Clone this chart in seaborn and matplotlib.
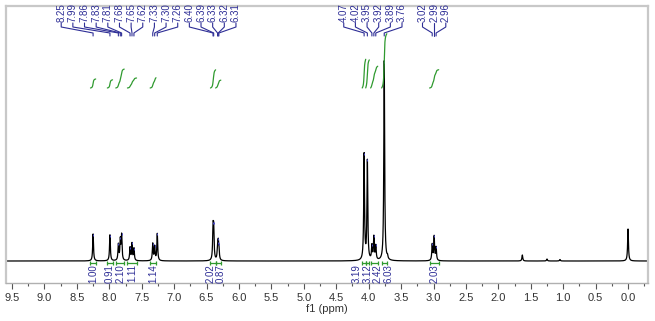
import numpy as np
import pandas as pd
import matplotlib.pyplot as plt
import seaborn as sns
from matplotlib.ticker import MultipleLocator, FormatStrFormatter

# picked peaks (ppm) and their heights above baseline
peak_ppm = [8.25, 7.99, 7.86, 7.83, 7.81, 7.68, 7.65, 7.62, 7.33, 7.30, 7.26,
            6.40, 6.39, 6.33, 6.32, 6.31,
            4.07, 4.02, 3.95, 3.92, 3.89, 3.76, 3.02, 2.99, 2.96]
peak_height = [27, 26, 16, 20, 25, 13, 17, 12, 17, 14, 27,
               29, 28, 12, 14, 11,
               106, 99, 14, 23, 14, 200, 16, 24, 13]
# unlabelled small signals
extra_ppm = [3.71, 1.63, 1.25, 1.05, 0.00]
extra_height = [3, 6, 2, 1.5, 32]

# integration regions
int_start = [8.29, 8.03, 7.90, 7.72, 7.37, 6.44, 6.36, 4.10, 4.045, 3.97, 3.80, 3.06]
int_end = [8.21, 7.95, 7.77, 7.58, 7.28, 6.36, 6.28, 4.045, 3.99, 3.86, 3.72, 2.92]
int_value = [1.00, 0.91, 2.10, 1.11, 1.14, 2.02, 0.87, 3.19, 3.12, 2.42, 6.03, 2.03]

X_LEFT, X_RIGHT = 9.593, -0.308
PX = 642 / (X_LEFT - X_RIGHT)   # pixels per ppm
HW = 0.0075                      # lorentzian half width
INT_BASE = 173
INT_SCALE = 9
NAVY = "#2e2e96"
GREEN = "#2f9a2f"

ppm = np.linspace(X_LEFT, X_RIGHT, 30000)


def lorentz(x, x0, h):
    return h * HW**2 / ((x - x0)**2 + HW**2)


def spread(xs, gap):
    groups = [[x] for x in xs]
    while True:
        merged = False
        for i in range(len(groups) - 1):
            g0, g1 = groups[i], groups[i + 1]
            s0 = np.mean(g0) - gap * (len(g0) - 1) / 2
            s1 = np.mean(g1) - gap * (len(g1) - 1) / 2
            if s1 < s0 + gap * len(g0):
                groups[i] = g0 + g1
                del groups[i + 1]
                merged = True
                break
        if not merged:
            break
    out = []
    for g in groups:
        s = np.mean(g) - gap * (len(g) - 1) / 2
        out += [s + gap * k for k in range(len(g))]
    return out


def to_px(p):
    return (X_LEFT - np.asarray(p)) * PX


def to_ppm(x):
    return X_LEFT - np.asarray(x) / PX


spec = np.zeros_like(ppm)
for p, h in zip(peak_ppm + extra_ppm, peak_height + extra_height):
    spec += lorentz(ppm, p, h)

df = pd.DataFrame({"ppm": ppm, "intensity": spec})

sns.set_style("white")
plt.rcParams['font.family'] = ['Liberation Sans Narrow', 'Liberation Sans', 'DejaVu Sans']

fig = plt.figure(figsize=(6.55, 3.21), dpi=100)
ax = fig.add_axes([6 / 655, 38 / 321, 642 / 655, 277 / 321])

sns.lineplot(data=df, x="ppm", y="intensity", ax=ax, color="black",
             linewidth=0.9, estimator=None, sort=False)

# peak top markers
tops = np.interp(peak_ppm, ppm[::-1], spec[::-1])
ax.vlines(peak_ppm, tops - 2, tops, color="#4646c8", linewidth=0.7)

# integral curves and baseline markers
for s, e, v in zip(int_start, int_end, int_value):
    m = (ppm <= s) & (ppm >= e)
    cum = np.cumsum(spec[m])
    ax.plot(ppm[m], INT_BASE + v * INT_SCALE * cum / cum[-1], color=GREEN, linewidth=0.9)
    ax.plot([s, e], [-1.5, -1.5], color=GREEN, linewidth=0.9)
    ax.vlines([s, e], -3.5, 0.5, color=GREEN, linewidth=0.9)

# integral labels
centers = [(s + e) / 2 for s, e in zip(int_start, int_end)]
lab_x = to_ppm(spread(list(to_px(centers)), 10.5))
for x, v in zip(lab_x, int_value):
    ax.text(x, -3, f"{v:.2f}", rotation=90, ha="center", va="top",
            fontsize=7, color=NAVY)

# peak labels at the top with connectors (aromatic block nudged left)
lab_px = np.asarray(spread(list(to_px(peak_ppm)), 11.65))
lab_px = lab_px - np.where(np.asarray(peak_ppm) > 5, 8, 0)
lab_p = to_ppm(lab_px)
for p, lp in zip(peak_ppm, lab_p):
    ax.text(lp, 239, f"{p:.2f}", rotation=90, ha="center", va="bottom",
            fontsize=7, color=NAVY, clip_on=False)
    ax.plot([lp, lp, p, p], [238, 234, 228, 225], color=NAVY,
            linewidth=0.8, clip_on=False)

ax.set_xlim(X_LEFT, X_RIGHT)
ax.set_ylim(-22, 255)
ax.xaxis.set_major_locator(MultipleLocator(0.5))
ax.xaxis.set_minor_locator(MultipleLocator(0.25))
ax.xaxis.set_major_formatter(FormatStrFormatter("%.1f"))
ax.set_yticks([])
ax.set_ylabel("")
ax.set_xlabel("f1 (ppm)", fontsize=8, color="#333333", labelpad=1)
ax.tick_params(axis="x", which="major", bottom=True, length=4, width=0.8,
               color="#555555", labelsize=8, labelcolor="#333333", pad=3)
ax.tick_params(axis="x", which="minor", bottom=True, length=2, width=0.8,
               color="#555555")
for sp in ax.spines.values():
    sp.set_color("#c8c8c8")
    sp.set_linewidth(1.6)
ax.spines["bottom"].set_color("#b0b0b0")
ax.spines["bottom"].set_linewidth(1.0)

fig.savefig("out.png", dpi=100)
